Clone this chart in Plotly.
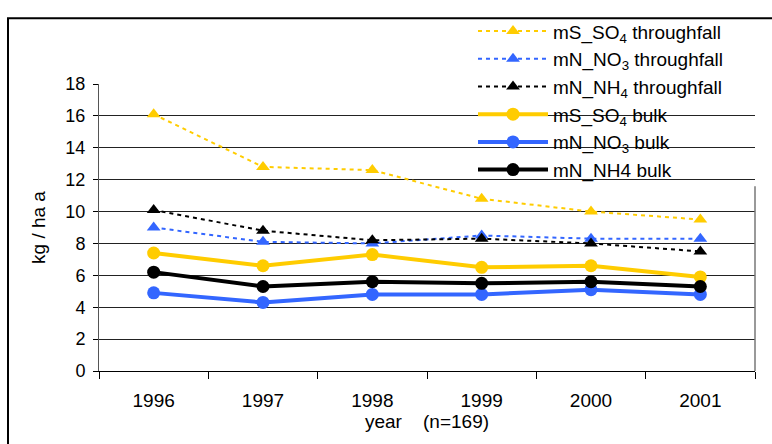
import plotly.graph_objects as go

# Data
years = ['1996', '1997', '1998', '1999', '2000', '2001']

so4_through = [16.1, 12.8, 12.6, 10.8, 10.0, 9.5]
no3_through = [9.0, 8.1, 8.0, 8.5, 8.3, 8.3]
nh4_through = [10.1, 8.8, 8.2, 8.3, 8.0, 7.5]
so4_bulk = [7.4, 6.6, 7.3, 6.5, 6.6, 5.9]
no3_bulk = [4.9, 4.3, 4.8, 4.8, 5.1, 4.8]
nh4_bulk = [6.2, 5.3, 5.6, 5.5, 5.6, 5.3]

YELLOW = '#FFCC00'
BLUE = '#3366FF'
BLACK = '#000000'
FONT = 'Liberation Sans, Arial, sans-serif'

fig = go.Figure()

# throughfall: dotted lines with triangles
for name, vals, col in [
    ('mS_SO<sub>4</sub> throughfall', so4_through, YELLOW),
    ('mN_NO<sub>3</sub> throughfall', no3_through, BLUE),
    ('mN_NH<sub>4</sub> throughfall', nh4_through, BLACK),
]:
    fig.add_trace(go.Scatter(
        x=years, y=vals, name=name, mode='lines+markers',
        line=dict(color=col, width=2, dash='4px,4px'),
        marker=dict(symbol='triangle-up', size=12, color=col),
    ))

# bulk: thick solid lines with circles
for name, vals, col in [
    ('mS_SO<sub>4</sub> bulk', so4_bulk, YELLOW),
    ('mN_NO<sub>3</sub> bulk', no3_bulk, BLUE),
    ('mN_NH4 bulk', nh4_bulk, BLACK),
]:
    fig.add_trace(go.Scatter(
        x=years, y=vals, name=name, mode='lines+markers',
        line=dict(color=col, width=4),
        marker=dict(symbol='circle', size=13, color=col),
    ))

fig.update_layout(
    width=772, height=444,
    margin=dict(l=99, r=17, t=79, b=73),
    paper_bgcolor='white', plot_bgcolor='white',
    font=dict(family=FONT, size=18, color='black'),
    showlegend=True,
    legend=dict(
        x=(473 - 99) / 656, y=(371 - 6) / 292,
        xanchor='left', yanchor='top',
        bgcolor='rgba(0,0,0,0)', borderwidth=0,
        font=dict(size=19),
        itemwidth=70,
        tracegroupgap=0,
    ),
)

fig.update_xaxes(
    type='category',
    range=[-0.5, 5.5],
    tickson='boundaries',
    ticks='outside', ticklen=7, tickcolor='black',
    showline=True, linecolor='black', linewidth=1,
    showgrid=False,
    tickfont=dict(size=19),
    ticklabelstandoff=12,
    title=dict(text='year\u00a0\u00a0\u00a0\u00a0(n=169)', font=dict(size=19), standoff=2),
)

fig.update_yaxes(
    range=[0, 18], dtick=2,
    ticks='outside', ticklen=5, tickcolor='black',
    showline=True, linecolor='#555555', linewidth=1,
    showgrid=True, gridcolor='#222222', gridwidth=1,
    zeroline=False,
    tickfont=dict(size=18),
    ticklabelstandoff=4,
    title=dict(text='kg / ha a', font=dict(size=19), standoff=14),
)

# white box behind the legend hides the upper gridlines (as in the original)
fig.add_shape(
    type='rect', xref='paper', yref='paper',
    x0=(448 - 99) / 656, x1=1.02,
    y0=(371 - 183) / 292, y1=1.01,
    line=dict(width=0), fillcolor='white',
    layer='between',
)
# right border of plot area, below the legend box
fig.add_shape(
    type='line', xref='paper', yref='paper',
    x0=1, x1=1, y0=0, y1=(371 - 183) / 292,
    line=dict(color='#777777', width=1.5),
    layer='above',
)

# outer chart frame
fig.add_shape(
    type='rect', xref='paper', yref='paper',
    x0=(8 - 99) / 656, x1=(790 - 99) / 656,
    y0=(371 - 460) / 292, y1=(371 - 12) / 292,
    line=dict(color='black', width=2), fillcolor='rgba(0,0,0,0)',
    layer='above',
)

fig.write_html("out.html", config={'displayModeBar': False},
               post_script="document.body.style.margin='0';")
